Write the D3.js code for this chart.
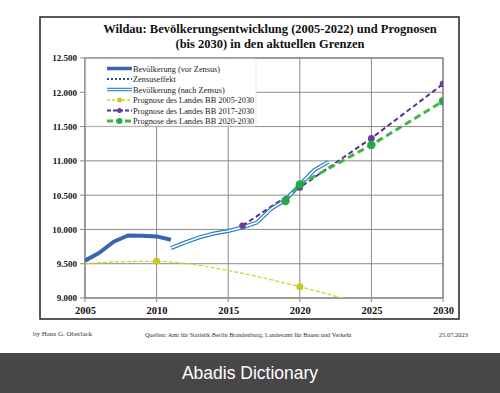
<!DOCTYPE html>
<html><head><meta charset="utf-8">
<script src="https://cdn.jsdelivr.net/npm/d3@7"></script>
<style>body{margin:0;background:#fff}svg{display:block}</style>
</head><body>
<script>
const titleLines = ["Wildau:  Bevölkerungsentwicklung (2005-2022) und Prognosen", "(bis 2030) in den aktuellen Grenzen"];
const yTicks = [9000, 9500, 10000, 10500, 11000, 11500, 12000, 12500];
const xTicks = [2005, 2010, 2015, 2020, 2025, 2030];
const yearsVor = [2005, 2006, 2007, 2008, 2009, 2010, 2011];
const popVor = [9545, 9660, 9820, 9912, 9908, 9898, 9850];
const yearsNach = [2011, 2012, 2013, 2014, 2015, 2016, 2017, 2018, 2019, 2020, 2021, 2022];
const popNach = [9728, 9810, 9885, 9940, 9978, 10030, 10100, 10300, 10430, 10650, 10865, 10985];
const yearsP2005 = [2005, 2007, 2010, 2012, 2015, 2020, 2025, 2030];
const popP2005 = [9496, 9525, 9535, 9505, 9400, 9165, 8880, 8580];
const markP2005 = [2010, 2020, 2025, 2030];
const yearsP2017 = [2016, 2020, 2025, 2030];
const popP2017 = [10054, 10612, 11330, 12120];
const yearsP2020 = [2019, 2020, 2025, 2030];
const popP2020 = [10415, 10657, 11232, 11870];
const legendLabels = ["Bevölkerung (vor Zensus)", "Zensuseffekt", "Bevölkerung (nach Zensus)", "Prognose des Landes BB 2005-2030", "Prognose des Landes BB 2017-2030", "Prognose des Landes BB 2020-2030"];
const footerLeft = "by Hans G. Oberlack";
const footerMid = "Quellen: Amt für Statistik Berlin Brandenburg, Landesamt für Bauen und Verkehr";
const footerRight = "25.07.2023";
const brand = "Abadis Dictionary";

const W = 500, H = 393;
const svg = d3.select("body").append("svg").attr("width", W).attr("height", H);
const serif = "'Liberation Serif', 'DejaVu Serif', serif";

const x = d3.scaleLinear().domain([2005, 2030]).range([85, 443]);
const y = d3.scaleLinear().domain([9000, 12500]).range([298, 58]);

// frame
svg.append("rect").attr("x", 40).attr("y", 17).attr("width", 419).attr("height", 302)
  .attr("fill", "#fff").attr("stroke", "#222").attr("stroke-width", 1.5);

// title
svg.append("g").selectAll("text").data(titleLines).join("text")
  .attr("x", 270).attr("y", (d, i) => 33 + i * 15).attr("text-anchor", "middle")
  .attr("font-family", serif).attr("font-weight", "bold").attr("font-size", 12.5).attr("fill", "#111")
  .text(d => d);

// grid
const grid = svg.append("g").attr("stroke", "#8c8c8c").attr("stroke-width", 1);
grid.selectAll("line.h").data(yTicks).join("line").attr("class", "h")
  .attr("x1", 80).attr("x2", 443).attr("y1", d => y(d)).attr("y2", d => y(d));
grid.selectAll("line.v").data(xTicks).join("line").attr("class", "v")
  .attr("x1", d => x(d)).attr("x2", d => x(d)).attr("y1", 58).attr("y2", 302);
svg.append("rect").attr("x", 85).attr("y", 58).attr("width", 358).attr("height", 240)
  .attr("fill", "none").attr("stroke", "#8c8c8c").attr("stroke-width", 1.5);

// axes labels
const yAxis = d3.axisLeft(y).tickValues(yTicks).tickSize(0).tickPadding(8)
  .tickFormat(d => d3.format(",")(d).replace(",", "."));
const ya = svg.append("g").attr("transform", "translate(85,0)").call(yAxis);
ya.select(".domain").remove();
ya.selectAll("text").attr("font-family", serif).attr("font-weight", "bold").attr("font-size", 9).attr("fill", "#111");
const xAxis = d3.axisBottom(x).tickValues(xTicks).tickSize(0).tickPadding(9).tickFormat(d3.format("d"));
const xa = svg.append("g").attr("transform", "translate(0,298)").call(xAxis);
xa.select(".domain").remove();
xa.selectAll("text").attr("font-family", serif).attr("font-weight", "bold").attr("font-size", 10.5).attr("fill", "#111");

// clip
svg.append("clipPath").attr("id", "clip").append("rect").attr("x", 85).attr("y", 58).attr("width", 358).attr("height", 240);
const plot = svg.append("g").attr("clip-path", "url(#clip)");

const line = d3.line().x(d => x(d[0])).y(d => y(d[1]));
const z = (a, b) => a.map((v, i) => [v, b[i]]);

// Prognose 2005
plot.append("path").datum(z(yearsP2005, popP2005)).attr("d", line.curve(d3.curveMonotoneX))
  .attr("fill", "none").attr("stroke", "#d2d230").attr("stroke-width", 1.3).attr("stroke-dasharray", "4,2");
line.curve(d3.curveLinear);
plot.selectAll("circle.p05").data(markP2005).join("circle").attr("class", "p05")
  .attr("cx", d => x(d)).attr("cy", d => y(popP2005[yearsP2005.indexOf(d)])).attr("r", 3.5).attr("fill", "#c8c820");

// vor Zensus
plot.append("path").datum(z(yearsVor, popVor)).attr("d", line)
  .attr("fill", "none").attr("stroke", "#3b63b0").attr("stroke-width", 4).attr("stroke-linejoin", "round");

// Prognose 2017
plot.append("path").datum(z(yearsP2017, popP2017)).attr("d", line)
  .attr("fill", "none").attr("stroke", "#55308f").attr("stroke-width", 2).attr("stroke-dasharray", "5,3");

// nach Zensus (double line)
plot.append("path").datum(z(yearsNach, popNach)).attr("d", line)
  .attr("fill", "none").attr("stroke", "#2b7cc4").attr("stroke-width", 4);
plot.append("path").datum(z(yearsNach, popNach)).attr("d", line)
  .attr("fill", "none").attr("stroke", "#fff").attr("stroke-width", 1.6);

// Prognose 2020
plot.append("path").datum(z(yearsP2020, popP2020)).attr("d", line)
  .attr("fill", "none").attr("stroke", "#3db54d").attr("stroke-width", 3).attr("stroke-dasharray", "7,4");
plot.selectAll("circle.p17").data(yearsP2017).join("circle").attr("class", "p17")
  .attr("cx", d => x(d)).attr("cy", (d, i) => y(popP2017[i])).attr("r", 3.3).attr("fill", "#6a3d9a");
plot.selectAll("circle.p20").data(yearsP2020).join("circle").attr("class", "p20")
  .attr("cx", d => x(d)).attr("cy", (d, i) => y(popP2020[i])).attr("r", 4.2).attr("fill", "#23a84a");

// legend
const lg = svg.append("g");
lg.append("rect").attr("x", 86).attr("y", 59).attr("width", 170).attr("height", 67).attr("fill", "#fff")
  .attr("stroke", "#e4e4e4").attr("stroke-width", 0.8);
const ly = i => 68.5 + i * 10.5;
lg.selectAll("text").data(legendLabels).join("text")
  .attr("x", 133).attr("y", (d, i) => ly(i) + 3).attr("font-family", serif).attr("font-size", 8.3).attr("fill", "#222")
  .text(d => d);
const lx1 = 107, lx2 = 132;
lg.append("line").attr("x1", lx1).attr("x2", lx2).attr("y1", ly(0)).attr("y2", ly(0)).attr("stroke", "#3b63b0").attr("stroke-width", 3.5);
lg.append("line").attr("x1", lx1).attr("x2", lx2).attr("y1", ly(1)).attr("y2", ly(1)).attr("stroke", "#2e4f9e").attr("stroke-width", 2).attr("stroke-dasharray", "2,2");
lg.append("line").attr("x1", lx1).attr("x2", lx2).attr("y1", ly(2)).attr("y2", ly(2)).attr("stroke", "#2b7cc4").attr("stroke-width", 3.5);
lg.append("line").attr("x1", lx1).attr("x2", lx2).attr("y1", ly(2)).attr("y2", ly(2)).attr("stroke", "#fff").attr("stroke-width", 1.3);
lg.append("line").attr("x1", lx1).attr("x2", lx2).attr("y1", ly(3)).attr("y2", ly(3)).attr("stroke", "#d2d230").attr("stroke-width", 1.3).attr("stroke-dasharray", "3,2");
lg.append("circle").attr("cx", (lx1 + lx2) / 2).attr("cy", ly(3)).attr("r", 2.5).attr("fill", "#c8c820");
lg.append("line").attr("x1", lx1).attr("x2", lx2).attr("y1", ly(4)).attr("y2", ly(4)).attr("stroke", "#55308f").attr("stroke-width", 2).attr("stroke-dasharray", "4,2");
lg.append("circle").attr("cx", (lx1 + lx2) / 2).attr("cy", ly(4)).attr("r", 2.5).attr("fill", "#6a3d9a");
lg.append("line").attr("x1", lx1).attr("x2", lx2).attr("y1", ly(5)).attr("y2", ly(5)).attr("stroke", "#3db54d").attr("stroke-width", 3).attr("stroke-dasharray", "6,3");
lg.append("circle").attr("cx", (lx1 + lx2) / 2).attr("cy", ly(5)).attr("r", 3).attr("fill", "#23a84a");

// footer
svg.append("text").attr("x", 33).attr("y", 336).attr("font-family", serif).attr("font-size", 7).attr("fill", "#333").text(footerLeft);
svg.append("text").attr("x", 145).attr("y", 337).attr("font-family", serif).attr("font-size", 6.3).attr("fill", "#333").text(footerMid);
svg.append("text").attr("x", 468).attr("y", 337).attr("text-anchor", "end").attr("font-family", serif).attr("font-size", 6.5).attr("fill", "#333").text(footerRight);

// bottom bar
svg.append("rect").attr("x", 0).attr("y", 353).attr("width", W).attr("height", 40).attr("fill", "#484647");
svg.append("text").attr("x", 250).attr("y", 379).attr("text-anchor", "middle")
  .attr("font-family", "'Liberation Sans', Arial, sans-serif").attr("font-size", 17.5).attr("fill", "#fff").text(brand);
</script>
</body></html>
